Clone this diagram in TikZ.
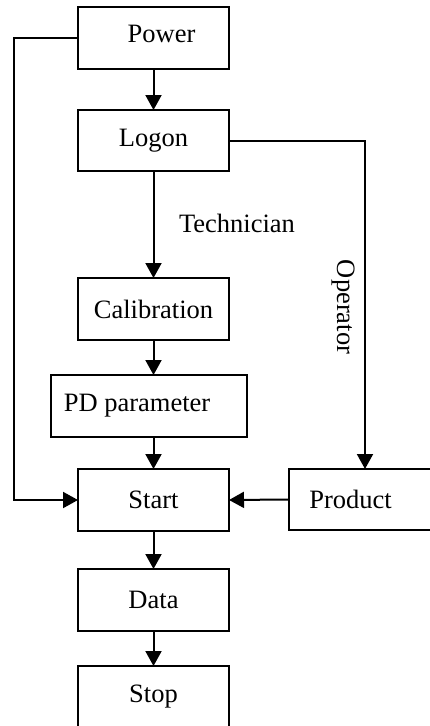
\documentclass[tikz,border=0pt]{standalone}
\usepackage{fontspec}
\setmainfont{Liberation Serif}
\usetikzlibrary{arrows.meta}
\begin{document}
\begin{tikzpicture}[x={(1pt,0)},y={(0,-1pt)},
  box/.style={draw,line width=2pt,rectangle,inner sep=0pt,outer sep=0pt},
  lbl/.style={font=\fontsize{26.5}{31}\selectfont},
  conn/.style={line width=2pt},
  arr/.style={conn,-{Triangle[length=15pt,width=16pt]}}]
\useasboundingbox (0,0) rectangle (429,726);
\node[box,minimum width=151pt,minimum height=62pt,label={[lbl,xshift=8pt,yshift=4pt]center:Power}] (power) at (153.5,38) {};
\node[box,minimum width=151pt,minimum height=61pt,label={[lbl]center:Logon}] (logon) at (153.5,140.5) {};
\node[box,minimum width=151pt,minimum height=62pt,label={[lbl]center:Calibration}] (calib) at (153.5,309) {};
\node[box,minimum width=196pt,minimum height=62pt,label={[lbl,xshift=-12pt]center:PD parameter}] (pd) at (149,406) {};
\node[box,minimum width=151pt,minimum height=62pt,label={[lbl]center:Start}] (start) at (153.5,500) {};
\node[box,minimum width=143pt,minimum height=61pt,label={[lbl,xshift=-10pt]center:Product}] (product) at (360.5,499.5) {};
\node[box,minimum width=151pt,minimum height=62pt,label={[lbl]center:Data}] (data) at (153.5,600) {};
\node[box,minimum width=151pt,minimum height=62pt,label={[lbl]center:Stop}] (stop) at (153.5,697) {};
\node[lbl] (tech) at (237,223) {Technician};
\node[lbl,rotate=-90] (oper) at (343,307) {Operator};
\coordinate (lt) at (14,38);
\coordinate (lb) at (14,500);
\coordinate (rt) at (365,140.5);
\draw[arr] (power.west) -- (lt) -- (lb) -- (start.west);
\draw[arr] (logon.east) -- (rt) -- (rt |- product.north);
\draw[arr] (product.west) -- (start.east);
\draw[arr] (power.south) -- (logon.north);
\draw[arr] (logon.south) -- (calib.north);
\draw[arr] (calib.south) -- (calib.south |- pd.north);
\draw[arr] (calib.south |- pd.south) -- (start.north);
\draw[arr] (start.south) -- (data.north);
\draw[arr] (data.south) -- (stop.north);
\end{tikzpicture}
\end{document}
